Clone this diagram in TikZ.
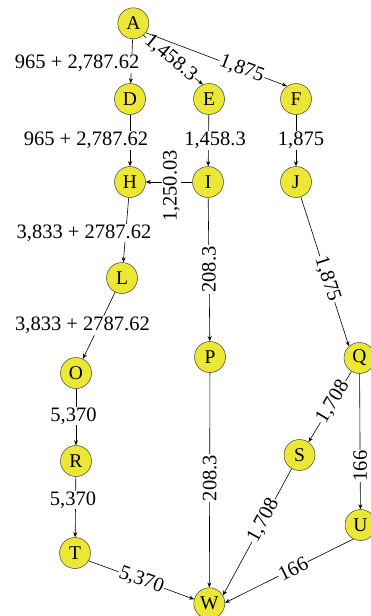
\documentclass[tikz,border=0pt]{standalone}
\usepackage{fontspec}
\setmainfont{Liberation Serif}
\usetikzlibrary{arrows.meta}
\definecolor{nodeyellow}{RGB}{236,231,52}
\tikzset{
  vtx/.style={circle, draw=black!75, line width=0.5pt, fill=nodeyellow, minimum size=31pt, inner sep=0pt, font=\fontsize{19.5}{22}\selectfont},
  arr/.style={draw=black, line width=0.6pt, -{Stealth[length=5pt,width=4pt]}},
  lbl/.style={fill=white, inner sep=1pt, font=\fontsize{20.5}{24}\selectfont},
}
\begin{document}
\begin{tikzpicture}[x=1pt,y=-1pt]
\useasboundingbox (0,0) rectangle (371,616);
\node[vtx] (A) at (133.3,23.3) {A};
\node[vtx] (D) at (130,99) {D};
\node[vtx] (E) at (209,99) {E};
\node[vtx] (F) at (296,99) {F};
\node[vtx] (H) at (130,182) {H};
\node[vtx] (I) at (208,182) {I};
\node[vtx] (J) at (296,182) {J};
\node[vtx] (L) at (122,278) {L};
\node[vtx] (O) at (76,373) {O};
\node[vtx] (P) at (210,357) {P};
\node[vtx] (Q) at (359.5,358) {Q};
\node[vtx] (R) at (76,461) {R};
\node[vtx] (S) at (299.5,455) {S};
\node[vtx] (T) at (75,553) {T};
\node[vtx] (U) at (360.5,525) {U};
\node[vtx] (W) at (209.3,603.3) {W};

\draw[arr] (A) -- node[lbl, xshift=-54.5pt, yshift=-2pt] {965 + 2,787.62} (D);
\draw[arr] (A.-50) -- node[lbl, sloped, pos=0.46] {1,458.3} (E.113);
\draw[arr] (A.-37) -- node[lbl, sloped, pos=0.68] {1,875} (F.125);
\draw[arr] (D) -- node[lbl, xshift=-44pt] {965 + 2,787.62} (H);
\draw[arr] (E) -- node[lbl, xshift=6.5pt] {1,458.3} (I);
\draw[arr] (F) -- node[lbl, xshift=5pt] {1,875} (J);
\draw[arr] (I) -- node[lbl, xshift=2.5pt, yshift=-4pt, rotate=90] {1,250.03} (H);
\draw[arr] (J) -- node[lbl, sloped, pos=0.55] {1,875} (Q.132);
\draw[arr] (H) -- node[lbl, xshift=-42pt, yshift=-3pt] {3,833 + 2787.62} (L);
\draw[arr] (I) -- node[lbl, rotate=90] {208.3} (P);
\draw[arr] (L) -- node[lbl, xshift=-16.5pt] {3,833 + 2787.62} (O);
\draw[arr] (O) -- node[lbl, xshift=-2.5pt, yshift=1pt] {5,370} (R);
\draw[arr] (R) -- node[lbl, xshift=-2.5pt, yshift=7pt] {5,370} (T);
\draw[arr] (P) -- node[lbl, yshift=2pt, rotate=90] {208.3} (W);
\draw[arr] (Q.-121) -- node[lbl, sloped, pos=0.43] {1,708} (S.55);
\draw[arr] (Q) -- node[lbl, pos=0.68, rotate=90] {166} (U);
\draw[arr] (S.-120) -- node[lbl, sloped, pos=0.41] {1,708} (W.30);
\draw[arr] (U.-117) -- node[lbl, sloped, pos=0.47] {166} (W.2);
\draw[arr] (T.-30) -- node[lbl, sloped, pos=0.5] {5,370} (W.165);
\end{tikzpicture}
\end{document}
